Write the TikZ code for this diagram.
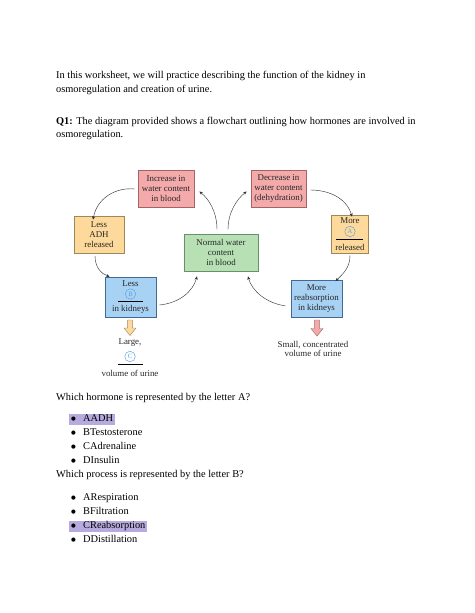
\documentclass[tikz,border=0pt]{standalone}
\usepackage{fontspec}
\setmainfont{Liberation Serif}
\newfontfamily\dejavu{DejaVu Sans}
\usetikzlibrary{calc,arrows.meta}
\newdimen\px \px=1.2911pt
\definecolor{redfill}{RGB}{244,170,170}
\definecolor{redline}{RGB}{165,100,100}
\definecolor{orfill}{RGB}{253,218,155}
\definecolor{orline}{RGB}{160,135,90}
\definecolor{grfill}{RGB}{183,225,181}
\definecolor{grline}{RGB}{105,145,105}
\definecolor{blfill}{RGB}{168,210,244}
\definecolor{blline}{RGB}{65,105,145}
\definecolor{circ}{RGB}{95,160,225}
\definecolor{hl}{RGB}{182,170,222}
\tikzset{
  box/.style={draw=#1line, fill=#1fill, line width=0.9pt, align=center,
    font=\fontsize{11.5}{12.5}\selectfont, inner sep=0pt, text=black!85},
  inbox/.style={inner sep=0pt, font=\fontsize{11.5}{12.5}\selectfont, text=black!85},
  letter/.style={circle, draw=circ, text=circ, inner sep=0pt, minimum size=10.5\px,
    line width=0.6pt, font=\fontsize{8.5}{9}\selectfont},
  flow/.style={-{Stealth[length=4.5pt,width=4pt]}, draw=black!80, line width=0.55pt},
  body/.style={anchor=base west, inner sep=0pt, font=\fontsize{13.4}{15}\selectfont},
  item/.style={anchor=base west, inner xsep=2\px, inner ysep=0pt, font=\fontsize{13.4}{14}\selectfont},
  itemhl/.style={item, fill=hl},
}
\newcommand{\itemtext}[1]{\strut\makebox[12\px][l]{\raisebox{1.6pt}{\dejavu\fontsize{7}{7}\selectfont ●}}#1}
\begin{document}
\begin{tikzpicture}[x=1\px,y=1\px]
\useasboundingbox[fill=white] (0,0) rectangle (474,-613);

% intro text
\node[body] (t1) at (56,-78.5) {In this worksheet, we will practice describing the function of the kidney in};
\node[body] (t2) at (56,-92.5) {osmoregulation and creation of urine.};
\node[body] (t3) at (56,-124.5) {\textbf{Q1:} The diagram provided shows a flowchart outlining how hormones are involved in};
\node[body] (t4) at (56,-137.5) {osmoregulation.};

% boxes
\node[box=red, minimum width=56\px, minimum height=37\px] (inc) at (166,-188.5) {Increase in\\water content\\in blood};
\node[box=red, minimum width=55\px, minimum height=37\px] (dec) at (278.5,-188.5) {Decrease in\\water content\\(dehydration)};
\node[box=or, minimum width=50\px, minimum height=37\px] (ladh) at (99,-234.5) {Less\\ADH\\released};
\node[box=or, minimum width=37\px, minimum height=38\px] (madh) at (349.5,-234) {};
\node[box=gr, minimum width=74\px, minimum height=37\px] (norm) at (221,-252.5) {Normal water\\content\\in blood};
\node[box=bl, minimum width=51\px, minimum height=40\px] (lkid) at (130.5,-297) {};
\node[box=bl, minimum width=51\px, minimum height=37\px] (mkid) at (316.5,-298.5) {More\\reabsorption\\in kidneys};

% contents of More A released
\node[inbox] (mA1) at (350,-221) {More};
\node[letter] (mAc) at (350,-231.5) {A};
\draw[line width=0.7pt] (336,-239) -- (363,-239);
\node[inbox] (mA2) at (350,-247) {released};

% contents of Less B in kidneys
\node[inbox] (lB1) at (130.5,-284) {Less};
\node[letter] (lBc) at (130.5,-294) {B};
\draw[line width=0.7pt] (118,-301.5) -- (143,-301.5);
\node[inbox] (lB2) at (130.5,-309) {in kidneys};

% hollow down arrows
\draw[draw=orline, fill=orfill, line width=0.6pt]
  (127.6,-320) -- (132.4,-320) -- (132.4,-328) -- (136,-328) -- (130,-335.5)
  -- (124,-328) -- (127.6,-328) -- cycle;
\draw[draw=redline, fill=redfill, line width=0.6pt]
  (314.6,-320) -- (319.4,-320) -- (319.4,-328.5) -- (323,-328.5) -- (317,-336)
  -- (311,-328.5) -- (314.6,-328.5) -- cycle;

% urine texts
\node[inbox] (lg1) at (130,-343) {Large,};
\node[letter] (lgc) at (130,-356.5) {C};
\draw[line width=0.7pt] (118,-364) -- (143,-364);
\node[inbox] (lg2) at (130,-373) {volume of urine};
\node[inbox, align=center] (sm) at (313,-349) {Small, concentrated\\volume of urine};

% connectors
\draw[flow] ($(inc.west)+(-3,-0.5)$) .. controls (116,-187) and (97,-198) .. ($(ladh.north)+(-6,-4)$);
\draw[flow] ($(ladh.south)+(-4,-2.5)$) .. controls (95,-268) and (102,-274) .. ($(lkid.north west)+(5,0)$);
\draw[flow] ($(lkid.east)+(3,-8)$) .. controls (180,-303) and (193,-291) .. ($(norm.south)+(-24,-5)$);
\draw[flow] ($(norm.north)+(-4,4)$) .. controls (217,-212) and (209,-199) .. ($(inc.east)+(5,-3)$);
\draw[flow] ($(norm.north)+(7,4)$) .. controls (228,-212) and (237,-199) .. ($(dec.west)+(-4,-3)$);
\draw[flow] ($(dec.east)+(4,-1.5)$) .. controls (330,-190) and (347,-199) .. ($(madh.north)+(2.5,-2)$);
\draw[flow] ($(madh.south)+(0.5,-2)$) .. controls (350,-267) and (344,-273) .. ($(mkid.north)+(19,-1.5)$);
\draw[flow] ($(mkid.west)+(-5,-7.5)$) .. controls (266,-303) and (252,-291) .. ($(norm.south)+(27,-5)$);

% questions
\node[body] (q1) at (56,-400.5) {Which hormone is represented by the letter A?};
\node[itemhl] (a1) at (69,-421.5) {\itemtext{AADH}};
\node[item] (a2) at (69,-435.5) {\itemtext{BTestosterone}};
\node[item] (a3) at (69,-449.5) {\itemtext{CAdrenaline}};
\node[item] (a4) at (69,-463.5) {\itemtext{DInsulin}};
\node[body] (q2) at (56,-477.5) {Which process is represented by the letter B?};
\node[item] (b1) at (69,-500.5) {\itemtext{ARespiration}};
\node[item] (b2) at (69,-514.5) {\itemtext{BFiltration}};
\node[itemhl] (b3) at (69,-528.5) {\itemtext{CReabsorption}};
\node[item] (b4) at (69,-542.5) {\itemtext{DDistillation}};
\end{tikzpicture}
\end{document}
